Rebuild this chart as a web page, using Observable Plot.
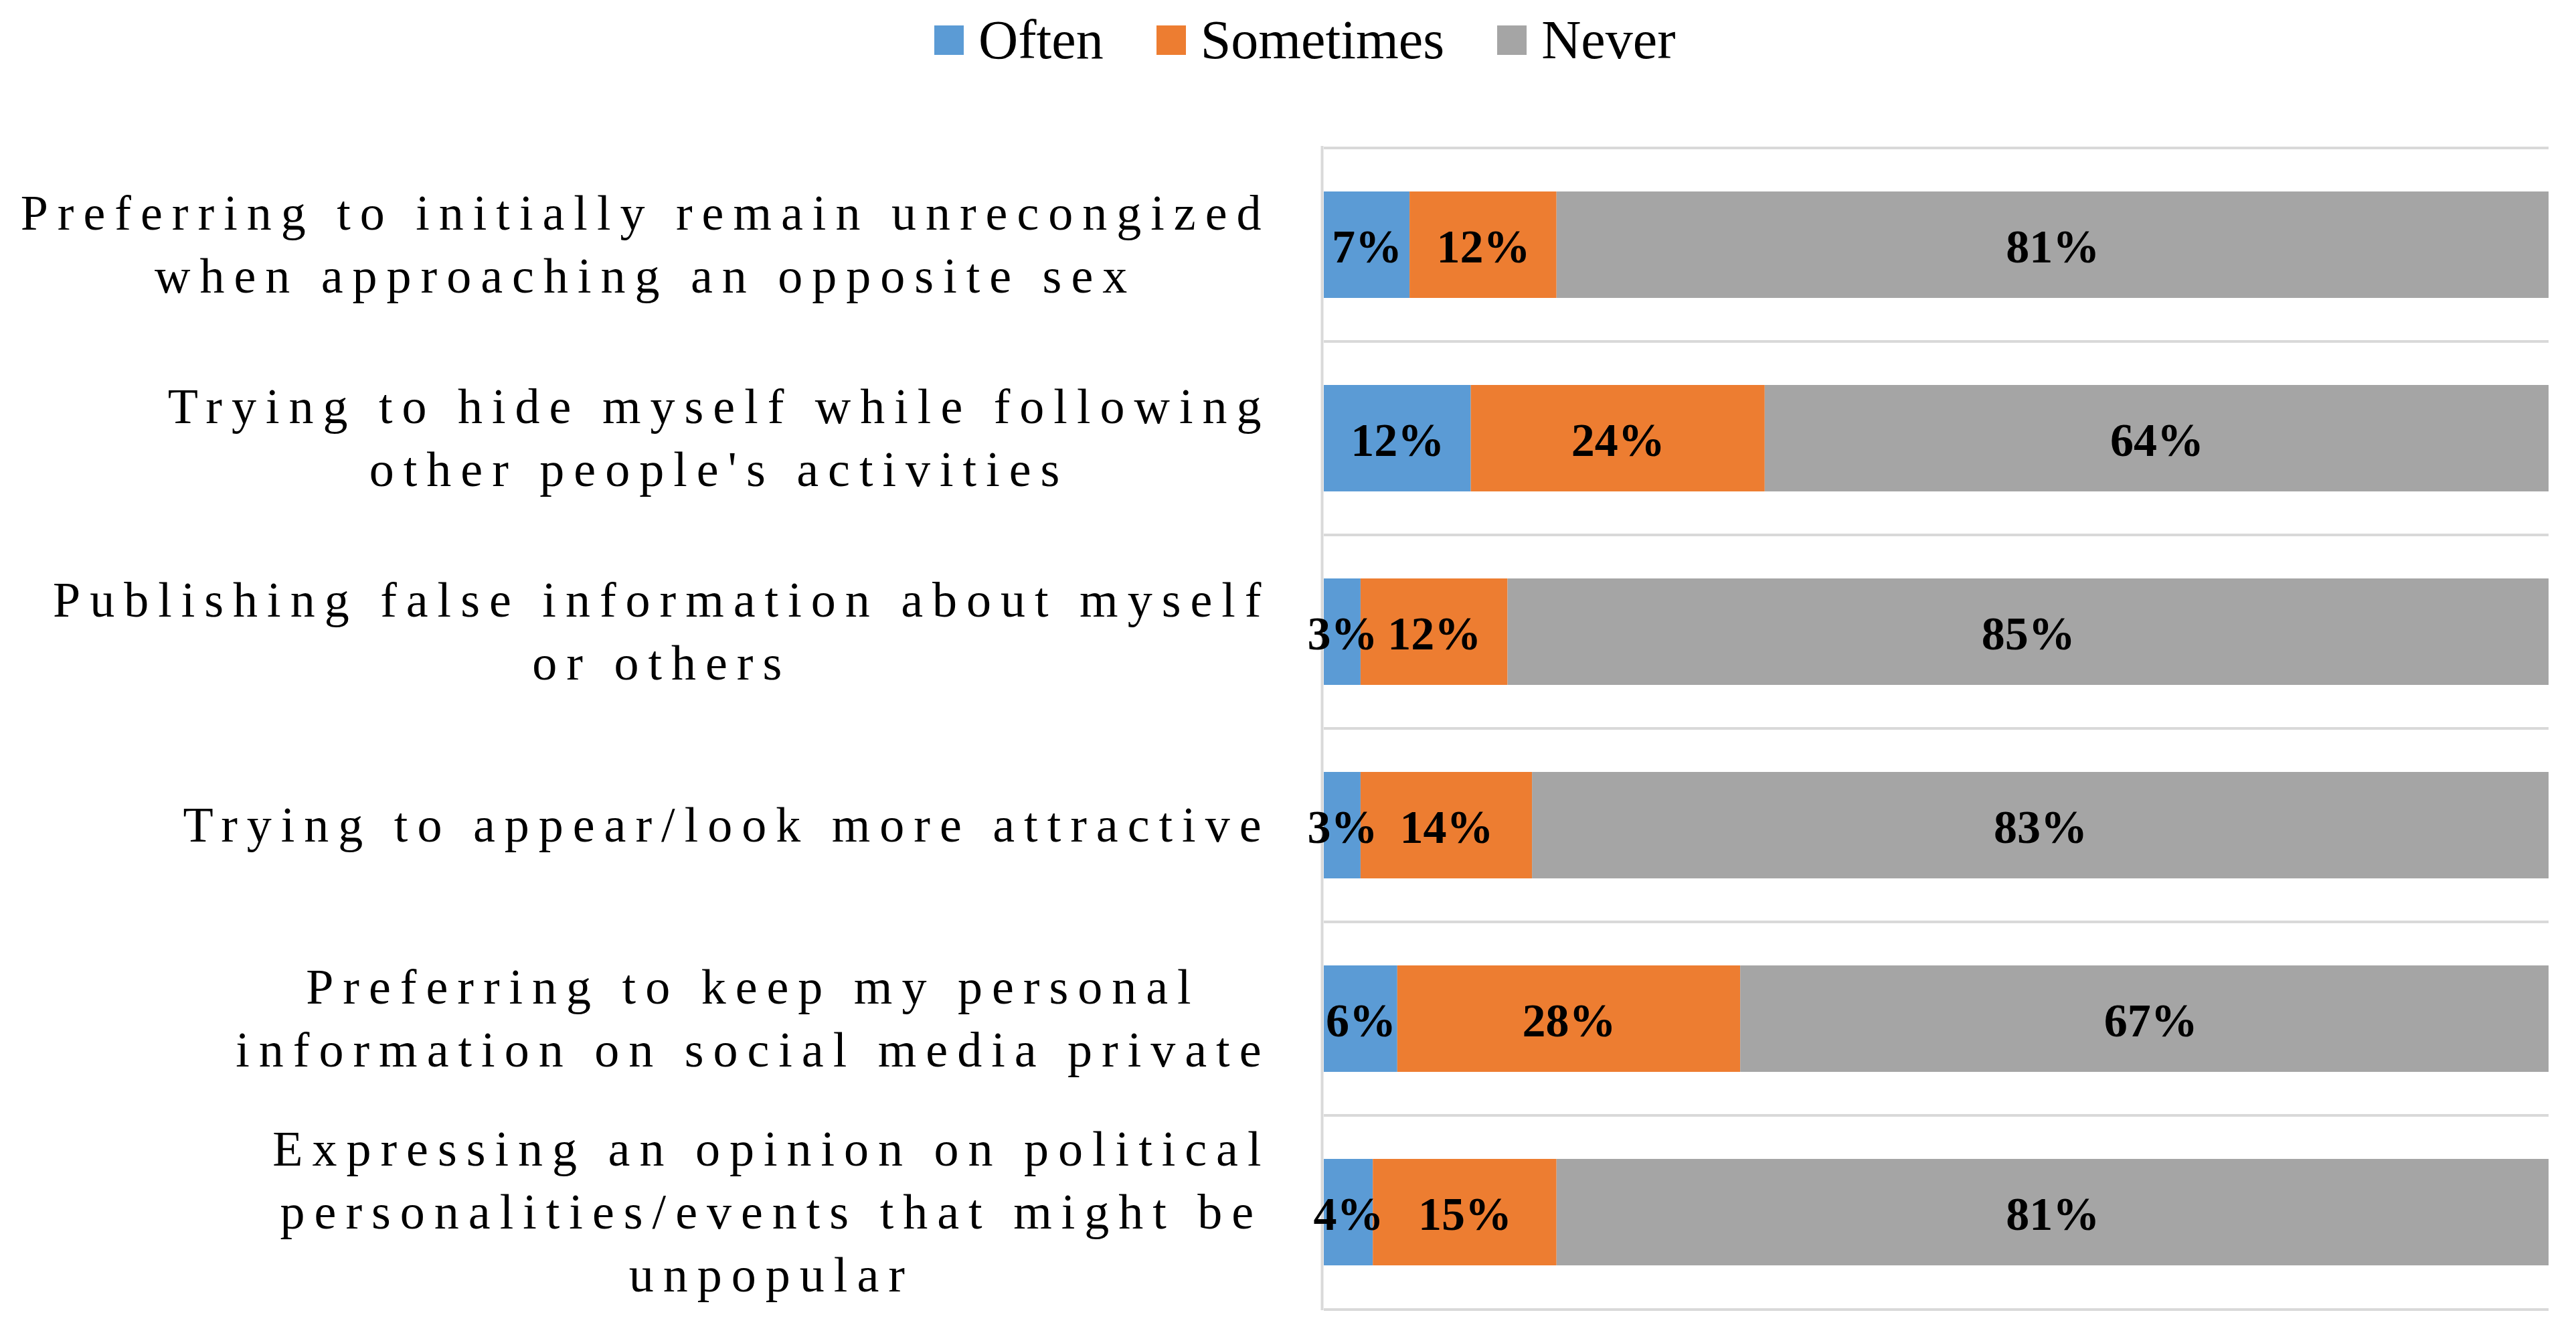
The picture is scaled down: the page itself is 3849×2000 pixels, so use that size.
<!DOCTYPE html>
<html><head><meta charset="utf-8">
<script src="https://cdn.jsdelivr.net/npm/d3@7"></script>
<script src="https://cdn.jsdelivr.net/npm/@observablehq/plot@0.6"></script>
<style>
body{margin:0;background:#fff;overflow:hidden;}
#legend{height:120px;display:flex;align-items:center;padding-left:1396px;font-family:"Liberation Serif",serif;font-size:82px;color:#000;box-sizing:border-box;}
.item{display:flex;align-items:center;margin-right:79px;}
.sw{width:44px;height:44px;margin-right:22px;}
#chart svg{display:block;}
</style></head><body>
<div id="legend"></div>
<div id="chart"></div>
<script>
const categories = [
  "Preferring to initially remain unrecongized\nwhen approaching an opposite sex",
  "Trying to hide myself while following\nother people's activities",
  "Publishing false information about myself\nor others",
  "Trying to appear/look more attractive",
  "Preferring to keep my personal\ninformation on social media private",
  "Expressing an opinion on political\npersonalities/events that might be\nunpopular"
];
const series = ["Often", "Sometimes", "Never"];
const often = [7, 12, 3, 3, 6, 4];
const sometimes = [12, 24, 12, 14, 28, 15];
const never = [81, 64, 85, 83, 67, 81];
const colors = ["#5B9BD5", "#ED7D31", "#A5A5A5"];

const data = [];
categories.forEach((c, i) => {
  [often, sometimes, never].forEach((arr, j) => data.push({category: c, series: series[j], value: arr[i]}));
});

// legend
const lg = d3.select("#legend");
series.forEach((s, j) => {
  const it = lg.append("div").attr("class", "item");
  it.append("div").attr("class", "sw").style("background", colors[j]);
  it.append("span").text(s);
});

const W = 3849, H = 1880, mt = 98, mb = 43, ml = 1978, mr = 41;
const step = (H - mt - mb) / categories.length;
const serif = '"Liberation Serif", serif';
const labelSize = 74, ls = 14, gap = 80;

// measure label line widths
const meas = d3.select("body").append("svg").attr("width", 10).attr("height", 10)
  .style("position", "absolute").style("left", "-5000px").style("top", "0");
function measure(s) {
  const t = meas.append("text").attr("font-family", serif).attr("font-size", labelSize)
    .style("letter-spacing", ls + "px").text(s);
  const w = t.node().getComputedTextLength();
  t.remove();
  return w;
}
const maxW = categories.map(c => d3.max(c.split("\n"), measure));

const plot = Plot.plot({
  width: W, height: H,
  marginTop: mt, marginBottom: mb, marginLeft: ml, marginRight: mr,
  style: {background: "white"},
  x: {domain: [0, 100], axis: null},
  y: {domain: categories, paddingInner: 0.45, paddingOuter: 0.225, axis: null},
  color: {domain: series, range: colors},
  marks: [
    Plot.ruleY(categories, {y: d => d, dy: -step / 2, stroke: "#d9d9d9", strokeWidth: 4}),
    Plot.ruleY([categories[categories.length - 1]], {y: d => d, dy: step / 2, stroke: "#d9d9d9", strokeWidth: 4}),
    Plot.ruleX([0], {stroke: "#d9d9d9", strokeWidth: 4, dx: -3}),
    Plot.barX(data, Plot.stackX({x: "value", y: "category", z: "series", fill: "series", clip: true})),
    Plot.text(data, Plot.stackX({x: "value", y: "category", z: "series", text: d => d.value + "%",
      fontFamily: serif, fontWeight: "bold", fontSize: 70, fill: "#000", dy: 4})),
    ...categories.map((c, i) => Plot.text([c], {
      y: d => d, text: d => d, frameAnchor: "left", textAnchor: "middle",
      dx: -(gap + maxW[i] / 2), dy: -6, lineHeight: 1.27,
      fontFamily: serif, fontSize: labelSize, fill: "#000", ariaDescription: "catlabel"
    }))
  ]
});
d3.select(plot).selectAll("g[aria-description='catlabel']").style("letter-spacing", ls + "px");
document.getElementById("chart").appendChild(plot);
</script>
</body></html>
